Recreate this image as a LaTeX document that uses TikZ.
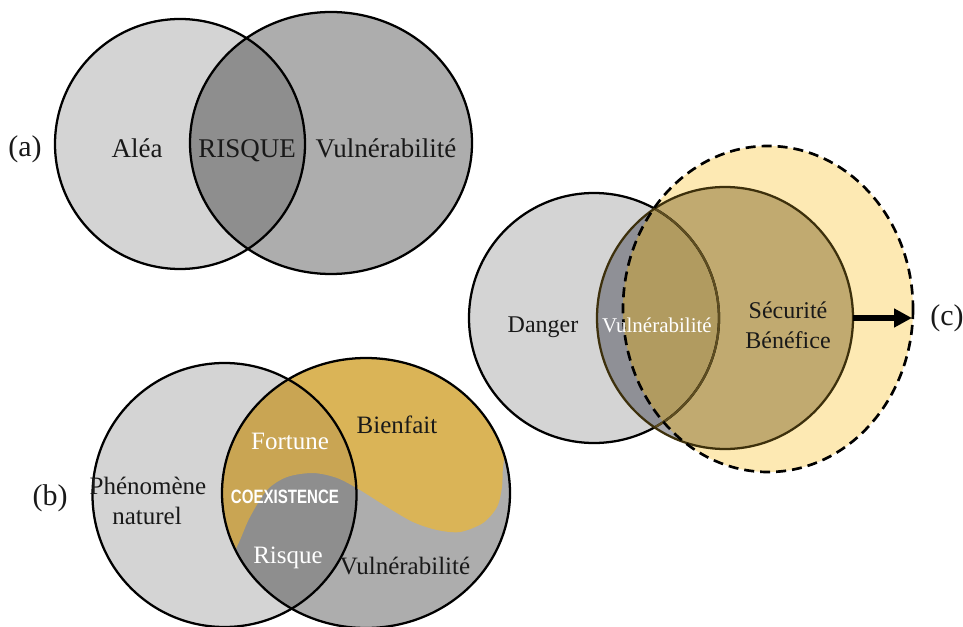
\documentclass[tikz,border=0pt]{standalone}
\usepackage{fontspec}
\setmainfont{Liberation Serif}
\newfontfamily\sansarial{Liberation Sans}
\usetikzlibrary{arrows.meta}
\definecolor{glight}{HTML}{D4D4D4}
\definecolor{gmid}{HTML}{ADADAD}
\definecolor{gdark}{HTML}{8E8E8E}
\definecolor{gold}{HTML}{DAB457}
\definecolor{golddark}{HTML}{C9A553}
\definecolor{paleyel}{HTML}{FDE9B3}
\definecolor{sectan}{HTML}{C1AA70}
\definecolor{sectandark}{HTML}{B19B60}
\definecolor{bluegray}{HTML}{8F9096}
\definecolor{secgray}{HTML}{A9A9AE}
\definecolor{secedge}{HTML}{3D300C}
\definecolor{dangerin}{HTML}{5E4D20}
\newcommand\szA{\fontsize{20.25}{24}\selectfont}
\newcommand\szB{\fontsize{18.75}{22}\selectfont}
\newcommand\szC{\fontsize{18}{22}\selectfont}
\newcommand\szW{\fontsize{15.75}{19}\selectfont}
\newcommand\szL{\fontsize{22.5}{26}\selectfont}
\newcommand\szS{\fontsize{14.5}{17}\selectfont}
\tikzset{
  lbl/.style={anchor=base, inner sep=0pt, text=black!90},
  wlbl/.style={anchor=base, inner sep=0pt, text=white},
  outl/.style={draw=black, line width=1.7pt},
}
\begin{document}
\begin{tikzpicture}[x=0.75pt,y=-0.75pt]
\useasboundingbox (0,0) rectangle (963,627);

% ---------------- (a) ----------------
\fill[glight] (180,144) circle[radius=125];
\fill[gmid] (331,143) ellipse[x radius=141, y radius=131];
\begin{scope}
  \clip (180,144) circle[radius=125];
  \fill[gdark] (331,143) ellipse[x radius=141, y radius=131];
\end{scope}
\draw[outl] (180,144) circle[radius=125];
\draw[outl] (331,143) ellipse[x radius=141, y radius=131];
\node[lbl] (la) at (25,157) {\szL (a)};
\node[lbl] (alea) at (137,158) {\szA Aléa};
\node[lbl] (risqueA) at (247,158) {\szA RISQUE};
\node[lbl] (vulnA) at (386,158) {\szA Vulnérabilité};

% ---------------- (b) ----------------
\fill[glight] (224.5,495) circle[radius=132];
\fill[gmid] (366,493) ellipse[x radius=144, y radius=135];
\begin{scope}
  \clip (366,493) ellipse[x radius=144, y radius=135];
  \fill[gold] plot[smooth] coordinates {(228,566) (240,540) (250,517) (267,490) (287,477) (313,473) (337,478) (360,490) (387,507) (413,522) (437,530) (460,532) (483,523) (497,507) (502,487) (503,467) (507,440)}
     -- (540,440) -- (540,330) -- (200,330) -- (200,566) -- cycle;
  \clip (224.5,495) circle[radius=132];
  \fill[gdark] (200,330) rectangle (540,640);
  \fill[golddark] plot[smooth] coordinates {(228,566) (240,540) (250,517) (267,490) (287,477) (313,473) (337,478) (360,490) (387,507) (413,522) (437,530) (460,532) (483,523) (497,507) (502,487) (503,467) (507,440)}
     -- (540,440) -- (540,330) -- (200,330) -- (200,566) -- cycle;
\end{scope}
\draw[outl] (224.5,495) circle[radius=132];
\draw[outl] (366,493) ellipse[x radius=144, y radius=135];
\node[lbl] (lb) at (50,505) {\szL (b)};
\node[lbl] (phen) at (148,494) {\szB Phénomène};
\node[lbl] (nat) at (147,524) {\szB naturel};
\node[lbl] (bienf) at (397,433) {\szB Bienfait};
\node[wlbl] (fort) at (290,449) {\szB Fortune};
\node[wlbl] (coex) at (285,503) {\scalebox{0.78}[1]{\sansarial\bfseries\szS COEXISTENCE}};
\node[wlbl] (risqB) at (288,563) {\szB Risque};
\node[lbl] (vulnB) at (405,574) {\szB Vulnérabilité};

% ---------------- (c) ----------------
\fill[paleyel] (768,309) ellipse[x radius=145, y radius=163];
\fill[glight] (594,318) circle[radius=125];
\begin{scope}
  \clip (725,318) ellipse[x radius=128, y radius=131];
  \fill[secgray] (450,150) rectangle (950,500);
  \begin{scope}
    \clip (768,309) ellipse[x radius=145, y radius=163];
    \fill[sectan] (450,150) rectangle (950,500);
  \end{scope}
  \begin{scope}
    \clip (594,318) circle[radius=125];
    \fill[bluegray] (450,150) rectangle (950,500);
    \clip (768,309) ellipse[x radius=145, y radius=163];
    \fill[sectandark] (450,150) rectangle (950,500);
  \end{scope}
\end{scope}
\draw[outl] (594,318) circle[radius=125];
\begin{scope}
  \clip (725,318) ellipse[x radius=128, y radius=131];
  \draw[line width=1.7pt, draw=dangerin] (594,318) circle[radius=125];
\end{scope}
\draw[line width=1.7pt, draw=secedge] (725,318) ellipse[x radius=128, y radius=131];
\draw[line width=2pt, dash pattern=on 7.5pt off 4.5pt] (768,309) ellipse[x radius=145, y radius=163];
\coordinate (arrS) at (853,318);
\coordinate (arrE) at (912,318);
\draw[line width=4.5pt, -{Triangle[length=13.5pt, width=13.5pt]}] (arrS) -- (arrE);
\node[lbl] (lc) at (947,325) {\szL (c)};
\node[lbl] (dang) at (543,332) {\szC Danger};
\node[wlbl] (vulnC) at (657,332) {\szW Vulnérabilité};
\node[lbl] (secu) at (788,318) {\szC Sécurité};
\node[lbl] (bene) at (788,348) {\szC Bénéfice};
\end{tikzpicture}
\end{document}
